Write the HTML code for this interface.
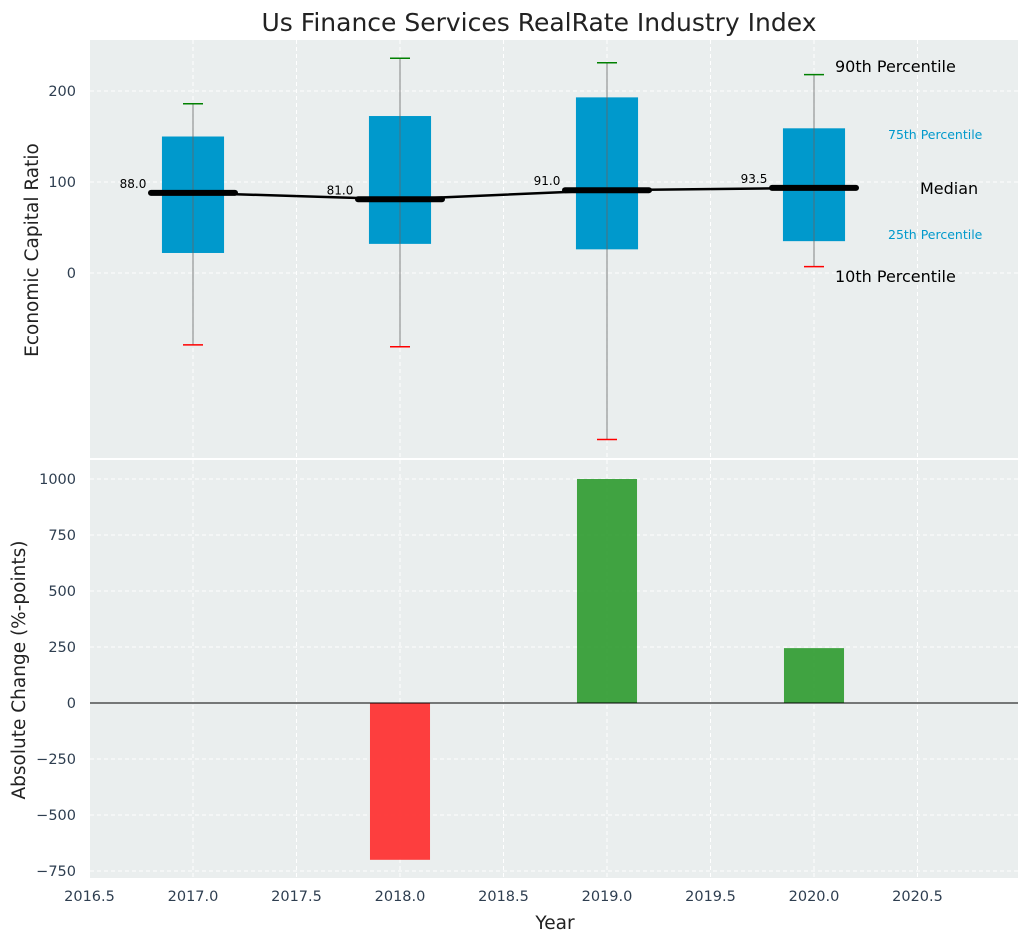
<!DOCTYPE html>
<html><head><meta charset="utf-8">
<style>
body{margin:0;background:#fff;font-family:"Liberation Sans","DejaVu Sans",sans-serif;}
svg text{font-family:"DejaVu Sans","Liberation Sans",sans-serif;}
</style></head>
<body>
<svg id="chart" width="1029" height="942" xmlns="http://www.w3.org/2000/svg">
<text x="539" y="31" text-anchor="middle" font-size="25" fill="#222">Us Finance Services RealRate Industry Index</text>
<rect x="90" y="40" width="928" height="418" fill="#eaeeee"/>
<rect x="90" y="460" width="928" height="418" fill="#eaeeee"/>
<g id="topG"></g><g id="botG"></g>
<text transform="translate(38,250) rotate(-90)" text-anchor="middle" font-size="18.5" fill="#222">Economic Capital Ratio</text>
<text transform="translate(25,670) rotate(-90)" text-anchor="middle" font-size="18.5" fill="#222">Absolute Change (%-points)</text>
<text x="555" y="929" text-anchor="middle" font-size="18.5" fill="#222">Year</text>
</svg>
<script>
const years=[2017,2018,2019,2020];
const p10=[-79,-81,-183,7];
const q1=[22,32,26,35];
const medians=[88,81,91,93.5];
const q3=[150,172.5,193,159];
const p90=[186,236,231,218];
const changes=[0,-700,1000,245];
const xTicks=[2016.5,2017.0,2017.5,2018.0,2018.5,2019.0,2019.5,2020.0,2020.5];
const topYTicks=[0,100,200];
const botYTicks=[-750,-500,-250,0,250,500,750,1000];

const NS="http://www.w3.org/2000/svg";
const X=v=>193+(v-2017)*207;
const YT=v=>273-v*0.91;
const YB=v=>703-v*0.224;
const fmt=v=>String(v).replace('-','\u2212');
function mk(parent,tag,attrs,text){const e=document.createElementNS(NS,tag);for(const k in attrs)e.setAttribute(k,attrs[k]);if(text!==undefined)e.textContent=text;parent.appendChild(e);return e;}
const topG=document.getElementById('topG'), botG=document.getElementById('botG');
const grid={stroke:'#fff','stroke-dasharray':'4,3','stroke-width':1};
xTicks.forEach(t=>{
  let g=mk(topG,'line',Object.assign({x1:X(t),x2:X(t),y1:40,y2:458},grid));
  
  
  g=mk(botG,'line',Object.assign({x1:X(t),x2:X(t),y1:460,y2:878},grid));
  
  
  const l=mk(botG,'text',{x:X(t),y:901,'text-anchor':'middle','font-size':14.5,fill:'#2e3e50'},t.toFixed(1));
  
  
});
topYTicks.forEach(t=>{
  const g=mk(topG,'line',Object.assign({x1:90,x2:1018,y1:YT(t),y2:YT(t)},grid));
  
  
  const l=mk(topG,'text',{x:76,y:YT(t)+5,'text-anchor':'end','font-size':14.5,fill:'#2e3e50'},fmt(t));
  
  
});
botYTicks.forEach(t=>{
  const g=mk(botG,'line',Object.assign({x1:90,x2:1018,y1:YB(t),y2:YB(t)},grid));
  
  
  const l=mk(botG,'text',{x:76,y:YB(t)+5,'text-anchor':'end','font-size':14.5,fill:'#2e3e50'},fmt(t));
  
  
});
const bw=0.3*207;
years.forEach((y,i)=>{
  const cx=X(y);
  const b=mk(topG,'rect',{x:cx-bw/2,y:YT(q3[i]),width:bw,height:YT(q1[i])-YT(q3[i]),fill:'#0099cc'});
  
  
  const w=mk(topG,'line',{x1:cx,x2:cx,y1:YT(p90[i]),y2:YT(p10[i]),stroke:'#666','stroke-width':1,opacity:0.8});
  
  
  const c1=mk(topG,'line',{x1:cx-10,x2:cx+10,y1:YT(p90[i]),y2:YT(p90[i]),stroke:'green','stroke-width':1.5});
  
  
  const c2=mk(topG,'line',{x1:cx-10,x2:cx+10,y1:YT(p10[i]),y2:YT(p10[i]),stroke:'red','stroke-width':1.5});
  
  
});
const pts=years.map((y,i)=>X(y)+','+YT(medians[i])).join(' ');
const ml=mk(topG,'polyline',{points:pts,fill:'none',stroke:'#000','stroke-width':2.5});


years.forEach((y,i)=>{
  const cx=X(y);
  const m=mk(topG,'line',{x1:cx-42,x2:cx+42,y1:YT(medians[i]),y2:YT(medians[i]),stroke:'#000','stroke-width':6,'stroke-linecap':'round'});
  
  
  const t=mk(topG,'text',{x:cx-60,y:YT(medians[i])-5,'text-anchor':'middle','font-size':12,fill:'#000'},medians[i].toFixed(1));
  
  
});
const ann=[['90th Percentile',835,72,16,'#000'],['75th Percentile',888,139,12.5,'#0099cc'],['Median',920,194,16,'#000'],['25th Percentile',888,239,12.5,'#0099cc'],['10th Percentile',835,282,16,'#000']];
ann.forEach(a=>{
  const t=mk(topG,'text',{x:a[1],y:a[2],'font-size':a[3],fill:a[4]},a[0]);
  
  
});
years.forEach((y,i)=>{
  const v=changes[i]; if(v===0) return;
  const cx=X(y), w=0.29*207;
  const r=mk(botG,'rect',{x:cx-w/2,y:Math.min(YB(v),YB(0)),width:w,height:Math.abs(YB(v)-YB(0)),fill:v>0?'#2e9a2e':'#ff2a2a',opacity:0.9});
  
  
});
const z=mk(botG,'line',{x1:90,x2:1018,y1:YB(0),y2:YB(0),stroke:'#000','stroke-width':1});


</script>
</body></html>
